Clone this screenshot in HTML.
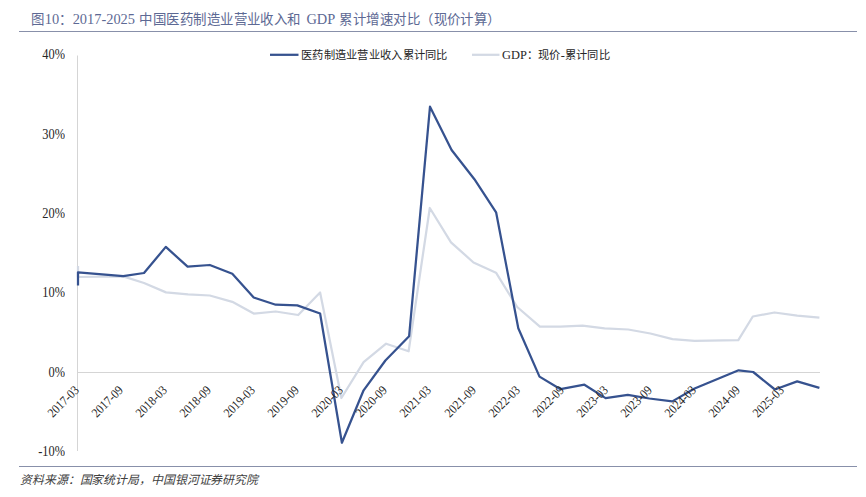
<!DOCTYPE html>
<html lang="zh-CN"><head><meta charset="utf-8">
<style>
html,body{margin:0;padding:0;background:#fff;}
body{width:866px;height:497px;position:relative;overflow:hidden;font-family:"Liberation Serif",serif;}
.title{position:absolute;left:31.4px;top:9.9px;font-size:13.45px;line-height:18px;color:#5d6994;white-space:nowrap;letter-spacing:0.45px;}
.title .l{font-size:14.4px;letter-spacing:0;}
.hr1{position:absolute;left:19px;top:31px;width:838px;height:1px;background:#8890aa;}
.hr2{position:absolute;left:19px;top:466px;width:838px;height:1px;background:#8890aa;}
.src{position:absolute;left:20px;top:471.5px;font-size:11.9px;line-height:16px;color:#404040;font-style:italic;white-space:nowrap;letter-spacing:-0.1px;}
.yl{position:absolute;right:801px;width:60px;text-align:right;font-size:13.6px;line-height:16px;color:#262626;transform-origin:100% 50%;transform:scaleX(0.91);}
.xl{position:absolute;top:380.2px;width:60px;text-align:right;font-size:12.8px;line-height:16px;color:#262626;transform-origin:100% 50%;transform:rotate(-45deg) scaleX(0.9);white-space:nowrap;}
.leg{position:absolute;top:47px;font-size:11.28px;line-height:16px;color:#262626;white-space:nowrap;letter-spacing:0.28px;}
.leg .l{font-size:12.4px;letter-spacing:0;}
svg{position:absolute;left:0;top:0;}
.c{display:inline-block;white-space:nowrap;overflow:visible;}
</style></head><body>
<div class="title"><span class="c" style="width:13.45px">图</span><span class="l">10</span><span class="c" style="width:13.45px">：</span><span class="l" style="margin-right:0.8px">2017-2025 </span><span class="c" style="width:161.4px">中国医药制造业营业收入和</span><span class="l" style="margin-left:2px;margin-right:1.2px"> GDP </span><span class="c" style="width:161.4px">累计增速对比（现价计算）</span></div>
<div class="hr1"></div>
<svg width="866" height="497" viewBox="0 0 866 497">
<line x1="77.5" y1="55.5" x2="77.5" y2="451" stroke="#d5d5d5" stroke-width="1"/>
<line x1="77.5" y1="372.5" x2="820" y2="372.5" stroke="#d5d5d5" stroke-width="1"/>
<line x1="270" y1="54.8" x2="298.5" y2="54.8" stroke="#36528f" stroke-width="2.25"/>
<line x1="472" y1="54.8" x2="499.5" y2="54.8" stroke="#d3d9e4" stroke-width="2.25"/>
<polyline points="78,266 78,277 123.2,276.4 144,283 166,292.4 188,294.4 209.8,295.5 232.3,301.8 253.7,313.6 275.7,311.5 298.2,315 320.1,292.5 341.4,398 363.6,362.2 386.1,343.7 408.6,351.3 429.8,208 451,242.3 473.5,262.5 496,272.7 517.2,307 539.9,326.7 560.4,326.6 582.5,325.7 604.6,328.3 628.2,329.5 650.4,333.5 672.5,339.2 694.6,340.8 738.3,340.2 752.8,316.5 774.5,312.5 797.2,315.7 819.4,317.7" fill="none" stroke="#d3d9e4" stroke-width="2.25" stroke-linejoin="round"/>
<polyline points="78,285.5 78,272.3 123.2,276.2 144,273 165.8,246.9 187.6,266.6 209.8,265 232.3,273.8 253.7,297.5 275.7,304.7 297.3,305.4 320.1,313.5 341.9,442.7 363.6,390.3 385.4,360.5 409.1,336.3 430,106.7 451.6,150 474.4,179.2 496.1,212.3 518.3,328.2 539.5,376.6 560.5,389.2 584.4,384.7 605.6,398.1 627.8,394.9 649.3,398.5 672.3,401.4 694.6,388.5 738.6,370.3 753.2,372 774.9,389.5 797.2,381.4 819.4,387.9" fill="none" stroke="#36528f" stroke-width="2.25" stroke-linejoin="round"/>
</svg>
<div class="leg" style="left:301px"><span class="c" style="width:146.6px">医药制造业营业收入累计同比</span></div>
<div class="leg" style="left:502px"><span class="l">GDP</span><span class="c" style="width:33.84px">：现价</span><span class="l">-</span><span class="c" style="width:45.12px">累计同比</span></div>
<div class="yl" style="top:47.1px">40%</div>
<div class="yl" style="top:126.5px">30%</div>
<div class="yl" style="top:205.9px">20%</div>
<div class="yl" style="top:285.3px">10%</div>
<div class="yl" style="top:364.7px">0%</div>
<div class="yl" style="top:444.1px">-10%</div>
<div class="xl" style="left:17.2px">2017-03</div>
<div class="xl" style="left:61.2px">2017-09</div>
<div class="xl" style="left:105.3px">2018-03</div>
<div class="xl" style="left:149.3px">2018-09</div>
<div class="xl" style="left:193.3px">2019-03</div>
<div class="xl" style="left:237.4px">2019-09</div>
<div class="xl" style="left:281.4px">2020-03</div>
<div class="xl" style="left:325.4px">2020-09</div>
<div class="xl" style="left:369.4px">2021-03</div>
<div class="xl" style="left:413.5px">2021-09</div>
<div class="xl" style="left:457.5px">2022-03</div>
<div class="xl" style="left:501.5px">2022-09</div>
<div class="xl" style="left:545.6px">2023-03</div>
<div class="xl" style="left:589.6px">2023-09</div>
<div class="xl" style="left:633.6px">2024-03</div>
<div class="xl" style="left:677.7px">2024-09</div>
<div class="xl" style="left:721.7px">2025-03</div>

<div class="hr2"></div>
<div class="src">资料来源：国家统计局，中国银河证券研究院</div>
</body></html>
